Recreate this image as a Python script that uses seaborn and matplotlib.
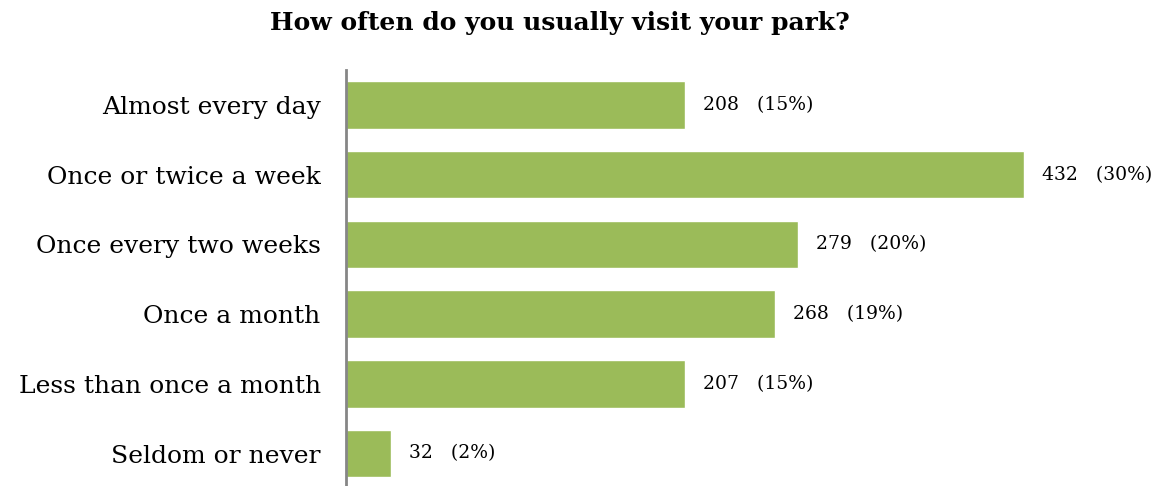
import matplotlib
matplotlib.use("Agg")
import matplotlib.pyplot as plt
import seaborn as sns
import pandas as pd

categories = ["Almost every day", "Once or twice a week", "Once every two weeks",
              "Once a month", "Less than once a month", "Seldom or never"]
counts = [208, 432, 279, 268, 207, 32]
percents = [15, 30, 20, 19, 15, 2]

df = pd.DataFrame({"category": categories, "count": counts, "percent": percents})

sns.set_theme(style="white")
plt.rcParams['font.family'] = ['DejaVu Serif', 'Liberation Serif']

fig = plt.figure(figsize=(11.64, 4.86), dpi=100)
ax = fig.add_axes([0.297, -0.005, 0.703, 0.861])

sns.barplot(data=df, y="category", x="percent", color="#9BBB59", width=0.68,
            saturation=1, ax=ax, orient="h")

ax.set_xlim(0, 36.2)
ax.set_ylim(5.5, -0.5)
ax.set_xlabel("")
ax.set_ylabel("")
ax.set_xticks([])
for s in ["top", "right", "bottom"]:
    ax.spines[s].set_visible(False)
ax.spines["left"].set_color("#868686")
ax.spines["left"].set_linewidth(2)
ax.tick_params(axis="y", length=0, pad=18, labelsize=18)
for lbl in ax.get_yticklabels():
    lbl.set_color("black")

for i, (c, p) in enumerate(zip(counts, percents)):
    ax.text(p + 0.8, i, f"{c}   ({p}%)", va="center", ha="left",
            fontsize=13.5, color="black")

fig.text(0.481, 0.953, "How often do you usually visit your park?", ha="center",
         va="center", fontsize=18, fontweight="bold", color="black")

fig.savefig("out.png", dpi=100)
